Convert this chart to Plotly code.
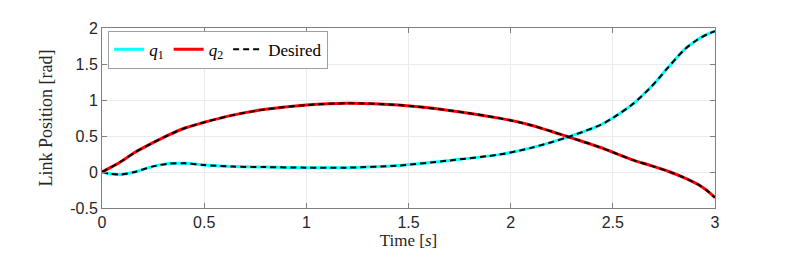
import plotly.graph_objects as go

# Time samples (s)
time_s = [0, 0.04, 0.09, 0.16, 0.245, 0.33, 0.41, 0.5, 0.64, 0.8, 1.0, 1.2,
          1.45, 1.7, 1.95, 2.1, 2.28, 2.44, 2.5, 2.6, 2.69, 2.77, 2.85, 2.915,
          2.96, 3.0]
# Link positions (rad)
q1_vals = [0, -0.025, -0.035, 0.0, 0.075, 0.117, 0.12, 0.097, 0.075, 0.068,
           0.06, 0.06, 0.09, 0.16, 0.245, 0.335, 0.485, 0.655, 0.75, 0.95, 1.19,
           1.45, 1.70, 1.84, 1.91, 1.955]
q2_vals = [0, 0.06, 0.14, 0.27, 0.40, 0.52, 0.615, 0.69, 0.79, 0.87, 0.93,
           0.955, 0.93, 0.855, 0.745, 0.65, 0.49, 0.34, 0.275, 0.165, 0.085, 0.01,
           -0.08, -0.17, -0.255, -0.355]
q1_desired = list(q1_vals)
q2_desired = list(q2_vals)

x_tickvals = [0, 0.5, 1, 1.5, 2, 2.5, 3]
x_ticktext = ["0", "0.5", "1", "1.5", "2", "2.5", "3"]
y_tickvals = [-0.5, 0, 0.5, 1, 1.5, 2]
y_ticktext = ["-0.5", "0", "0.5", "1", "1.5", "2"]

fig = go.Figure()
fig.add_trace(go.Scatter(x=time_s, y=q1_vals, mode="lines", name="<i>q</i><sub>1</sub>",
                         line=dict(color="#00ffff", width=3, shape="spline", smoothing=0.8)))
fig.add_trace(go.Scatter(x=time_s, y=q2_vals, mode="lines", name="<i>q</i><sub>2</sub>",
                         line=dict(color="#ff0000", width=3, shape="spline", smoothing=0.8)))
fig.add_trace(go.Scatter(x=time_s, y=q1_desired, mode="lines", name="Desired",
                         line=dict(color="black", width=2, dash="6px,4px", shape="spline", smoothing=0.8)))
fig.add_trace(go.Scatter(x=time_s, y=q2_desired, mode="lines", name="Desired", showlegend=False,
                         line=dict(color="black", width=2, dash="6px,4px", shape="spline", smoothing=0.8)))

axis_common = dict(showgrid=True, gridcolor="#ebebeb", gridwidth=1, zeroline=False,
                   showline=True, linecolor="#808080", linewidth=1, mirror="ticks",
                   ticks="inside", ticklen=5, tickcolor="#808080",
                   tickfont=dict(family="Liberation Sans, Arial", size=16, color="#262626"))

fig.update_xaxes(range=[0, 3], tickvals=x_tickvals, ticktext=x_ticktext,
                 title=dict(text="Time [<i>s</i>]", standoff=3,
                            font=dict(family="Liberation Serif, serif", size=17, color="#262626")),
                 **axis_common)
fig.update_yaxes(range=[-0.5, 2], tickvals=y_tickvals, ticktext=y_ticktext,
                 title=dict(text="Link Position [rad]", standoff=12,
                            font=dict(family="Liberation Serif, serif", size=18, color="#262626")),
                 **axis_common)

fig.update_layout(
    width=789, height=259,
    margin=dict(l=94, r=82, t=12, b=59),
    paper_bgcolor="white", plot_bgcolor="white",
    legend=dict(x=0.01, y=0.985, xanchor="left", yanchor="top", orientation="h",
                bgcolor="white", bordercolor="#a0a0a0", borderwidth=1,
                font=dict(family="Liberation Serif, serif", size=17, color="black"),
                itemwidth=30, tracegroupgap=0),
)

fig.write_html("out.html")
